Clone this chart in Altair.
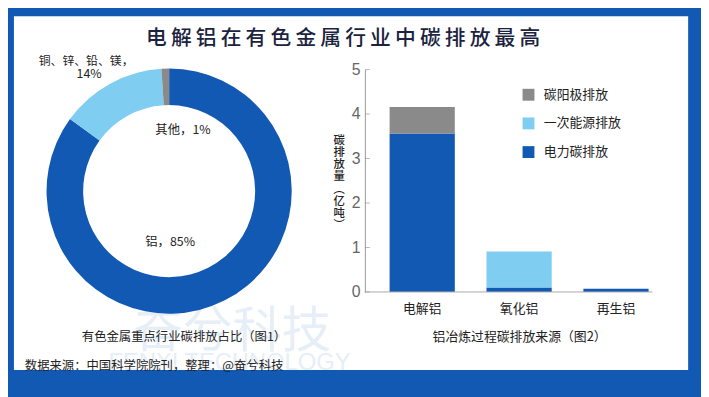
import altair as alt
import pandas as pd

# ---------------- data ----------------
title_text = "电解铝在有色金属行业中碳排放最高"

donut_labels = ["铝", "铜、锌、铅、镁", "其他"]
donut_values = [85, 14, 1]
donut_order = [0, 1, 2]

bar_categories = ["电解铝", "氧化铝", "再生铝"]
series_names = ["碳阳极排放", "一次能源排放", "电力碳排放"]
electric_values = [3.56, 0.10, 0.07]
primary_values = [0.0, 0.81, 0.0]
anode_values = [0.60, 0.0, 0.0]
y_ticks = [0, 1, 2, 3, 4, 5]

caption1 = "有色金属重点行业碳排放占比（图1）"
caption2 = "铝冶炼过程碳排放来源（图2）"
source_text = "数据来源：中国科学院院刊，整理：@奋兮科技"
y_title_chars = ["碳", "排", "放", "量", "︵", "亿", "吨", "︶"]
label_cu = "铜、锌、铅、镁，"
label_cu_pct = "14%"
label_other = "其他，1%"
label_al = "铝，85%"

# ---------------- styles ----------------
FRAME = "#1259b4"
BLUE = "#1259b4"
LIGHT = "#7fcdf0"
GRAY = "#8a8a8a"
CJK = "Noto Sans CJK SC"
W, H = 291, 225

one = pd.DataFrame({"k": [0]})

donut_df = pd.DataFrame({"name": donut_labels, "value": donut_values, "ord": donut_order})

rows = []
for cat, e, p, a in zip(bar_categories, electric_values, primary_values, anode_values):
    for name, v, o in (("电力碳排放", e, 0), ("一次能源排放", p, 1), ("碳阳极排放", a, 2)):
        if v > 0:
            rows.append({"cat": cat, "series": name, "value": v, "ord": o})
bars_df = pd.DataFrame(rows)
ticks_df = pd.DataFrame({"v": y_ticks})


def rect(x, x2, y, y2, color):
    return alt.Chart(one).mark_rect(color=color).encode(
        x=alt.value(x), x2=alt.value(x2), y=alt.value(y), y2=alt.value(y2))


def txt(s, x, y, size, color="#222222", weight="normal", align="center",
        font=CJK, baseline="middle", **kw):
    return alt.Chart(one).mark_text(
        text=s, fontSize=size, font=font, color=color, fontWeight=weight,
        align=align, baseline=baseline, **kw
    ).encode(x=alt.value(x), y=alt.value(y))


bg = rect(-361, 340, -60, 329, FRAME)
white = rect(-355, 327, -54, 304, "white")

wm1 = txt("奋兮科技", -134, 266, 50, color="#e6eef7")
wm2 = txt("FENXI TECHNOLOGY", -137, 297, 24, color="#e6eef7", font="Liberation Sans")

donut = alt.Chart(donut_df).mark_arc(radius=124, radius2=87).encode(
    theta=alt.Theta("value:Q", stack=True),
    order=alt.Order("ord:Q"),
    color=alt.Color("name:N", scale=alt.Scale(domain=donut_labels,
                                              range=[BLUE, LIGHT, GRAY]),
                    legend=None),
    x=alt.value(-198), y=alt.value(123),
)

x_scale = alt.Scale(domain=bar_categories, range=[25, 287],
                    paddingInner=0.327, paddingOuter=0)
y_scale = alt.Scale(domain=[0, 5], nice=False)

bars = alt.Chart(bars_df).mark_bar().encode(
    x=alt.X("cat:N", scale=x_scale, sort=bar_categories,
            axis=alt.Axis(domain=False, ticks=False, labelAngle=0, zindex=2,
                          labelFont=CJK, labelFontSize=13, labelColor="#222222",
                          labelPadding=11, title=caption2, titleFont=CJK,
                          titleFontSize=13, titleFontWeight="normal",
                          titleColor="#222222", titlePadding=15)),
    y=alt.Y("value:Q", stack="zero", scale=y_scale,
            axis=alt.Axis(values=y_ticks, ticks=False, grid=False, zindex=2,
                          domainColor="#999999", labelFont="Liberation Sans",
                          labelFontSize=16, labelColor="#666666",
                          labelPadding=5, title=None)),
    color=alt.Color("series:N",
                    scale=alt.Scale(domain=series_names, range=[GRAY, LIGHT, BLUE]),
                    legend=alt.Legend(orient="none", legendX=159, legendY=19,
                                      title=None, symbolType="square",
                                      symbolSize=144, symbolStrokeWidth=0,
                                      labelFont=CJK, labelFontSize=13,
                                      labelColor="#222222", rowPadding=15,
                                      labelOffset=9, padding=0)),
    order=alt.Order("ord:Q"),
)

yticks = alt.Chart(ticks_df).mark_tick(size=5, thickness=1, color="#999999").encode(
    y=alt.Y("v:Q", scale=y_scale), x=alt.value(2.5))

base_rule = alt.Chart(one).mark_rule(color="#aaaaaa").encode(
    y=alt.datum(0, scale=y_scale), x=alt.value(0), x2=alt.value(W))

title = txt("\u2009".join(title_text), -22, -30.5, 21, color="#1b2340", weight=500)
l_cu = txt(label_cu, -282, -9, 12)
l_cu2 = txt(label_cu_pct, -279, 5, 12.5)
l_oth = txt(label_other, -184, 61, 12.5)
l_al = txt(label_al, -197, 175, 12.5)
cap1 = txt(caption1, -183, 271, 12.5)
src = txt(source_text, -344, 300, 12.5, align="left")
ytitle = txt("\n".join(y_title_chars), -26, 66, 11.5, weight=500,
             baseline="top", lineBreak="\n", lineHeight=12.4)

chart = alt.layer(
    bg, white, wm1, wm2, donut, bars, yticks, base_rule,
    title, l_cu, l_cu2, l_oth, l_al, cap1, src, ytitle
).resolve_scale(color="independent").properties(
    width=W, height=H, padding=0, background=FRAME
).configure_view(stroke=None)

chart.save("out.html", embed_options={"renderer": "svg", "actions": False})
